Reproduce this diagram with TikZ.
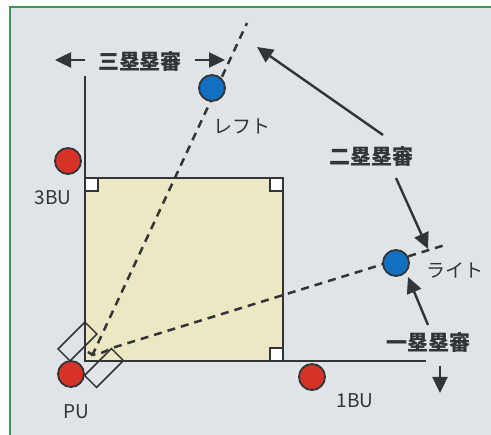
\documentclass[tikz,border=0pt]{standalone}
\usepackage{fontspec}
\newfontfamily\jpfont{Noto Sans CJK JP}
\usetikzlibrary{arrows.meta}
\definecolor{haikei}{RGB}{222,228,231}
\definecolor{waku}{RGB}{60,150,90}
\definecolor{naiya}{RGB}{237,232,196}
\definecolor{moji}{RGB}{50,52,54}
\definecolor{aka}{RGB}{214,50,40}
\definecolor{ao}{RGB}{18,112,192}
\tikzset{
  fielder/.style={circle, draw=moji, line width=1.8pt, minimum size=26pt, inner sep=0pt},
  lbl/.style={font=\jpfont\fontsize{19}{19}\selectfont, text=moji},
  umplbl/.style={font=\jpfont\bfseries\fontsize{21}{21}\selectfont, text=moji},
  arr/.style={-{Triangle[length=16pt,width=15pt]}, line width=2.4pt, draw=moji},
  umpbox/.style={draw=moji, line width=1.5pt, rotate=45, minimum width=38pt, minimum height=17pt, inner sep=0pt},
  basebox/.style={fill=white, draw=moji, line width=1.2pt},
}
\begin{document}
\begin{tikzpicture}[x=1pt, y=-1pt]
  \useasboundingbox (0,0) rectangle (491,435);
  % 背景と枠
  \fill[white!95!haikei] (0,0) rectangle (491,435);
  \fill[haikei] (10,7) rectangle (491,435);
  \draw[waku, line width=1.2pt] (10,440) -- (10,7) -- (500,7);

  % 内野
  \filldraw[fill=naiya, draw=moji, line width=1.8pt] (85,178) rectangle (283,361);
  \draw[moji, line width=1.8pt] (85,76) -- (85,361) -- (426,361);
  \filldraw[basebox] (85,178) rectangle (98,191);
  \filldraw[basebox] (270,178) rectangle (283,191);
  \filldraw[basebox] (270,348) rectangle (283,361);

  % 打球方向
  \coordinate (home) at (92,356);
  \coordinate (lfend) at (247,23);
  \coordinate (rfend) at (445,245);
  \draw[moji, line width=2.5pt, dash pattern=on 8pt off 6pt] (home) -- (lfend);
  \draw[moji, line width=2.5pt, dash pattern=on 8pt off 6pt]
    (88,352) .. controls (94,357) and (100,354) .. (112,348) -- (rfend);

  % 審判の位置
  \node[umpbox] (ubox1) at (77.5,341.5) {};
  \node[umpbox] (ubox2) at (104,368) {};

  % 野手
  \node[fielder, fill=aka] (sanbu) at (68,161) {};
  \node[fielder, fill=aka] (pu) at (71,374) {};
  \node[fielder, fill=aka] (ichibu) at (312,377) {};
  \node[fielder, fill=ao] (left) at (212,88) {};
  \node[fielder, fill=ao] (right) at (396,263) {};
  \node[lbl] at (53,198) {3BU};
  \node[lbl] at (76,412) {PU};
  \node[lbl] at (355,401) {1BU};
  \node[lbl] at (242,126) {レフト};
  \node[lbl] at (455,270) {ライト};

  % 塁審
  \node[umplbl] (ump3) at (140,62) {三塁塁審};
  \node[umplbl] (ump2) at (371,157) {二塁塁審};
  \node[umplbl] (ump1) at (428,343) {一塁塁審};
  \coordinate (u3a) at (85,60);
  \coordinate (u3b) at (55,60);
  \coordinate (u3c) at (195,60);
  \coordinate (u3d) at (225,60);
  \draw[arr] (u3a) -- (u3b);
  \draw[arr] (u3c) -- (u3d);
  \coordinate (u2a) at (383,135);
  \coordinate (u2b) at (257,47);
  \coordinate (u2c) at (396,178);
  \coordinate (u2d) at (428,249);
  \draw[arr] (u2a) -- (u2b);
  \draw[arr] (u2c) -- (u2d);
  \coordinate (u1a) at (428,325);
  \coordinate (u1b) at (408,277);
  \coordinate (u1c) at (440,366);
  \coordinate (u1d) at (440,393);
  \draw[arr] (u1a) -- (u1b);
  \draw[arr] (u1c) -- (u1d);
\end{tikzpicture}
\end{document}
